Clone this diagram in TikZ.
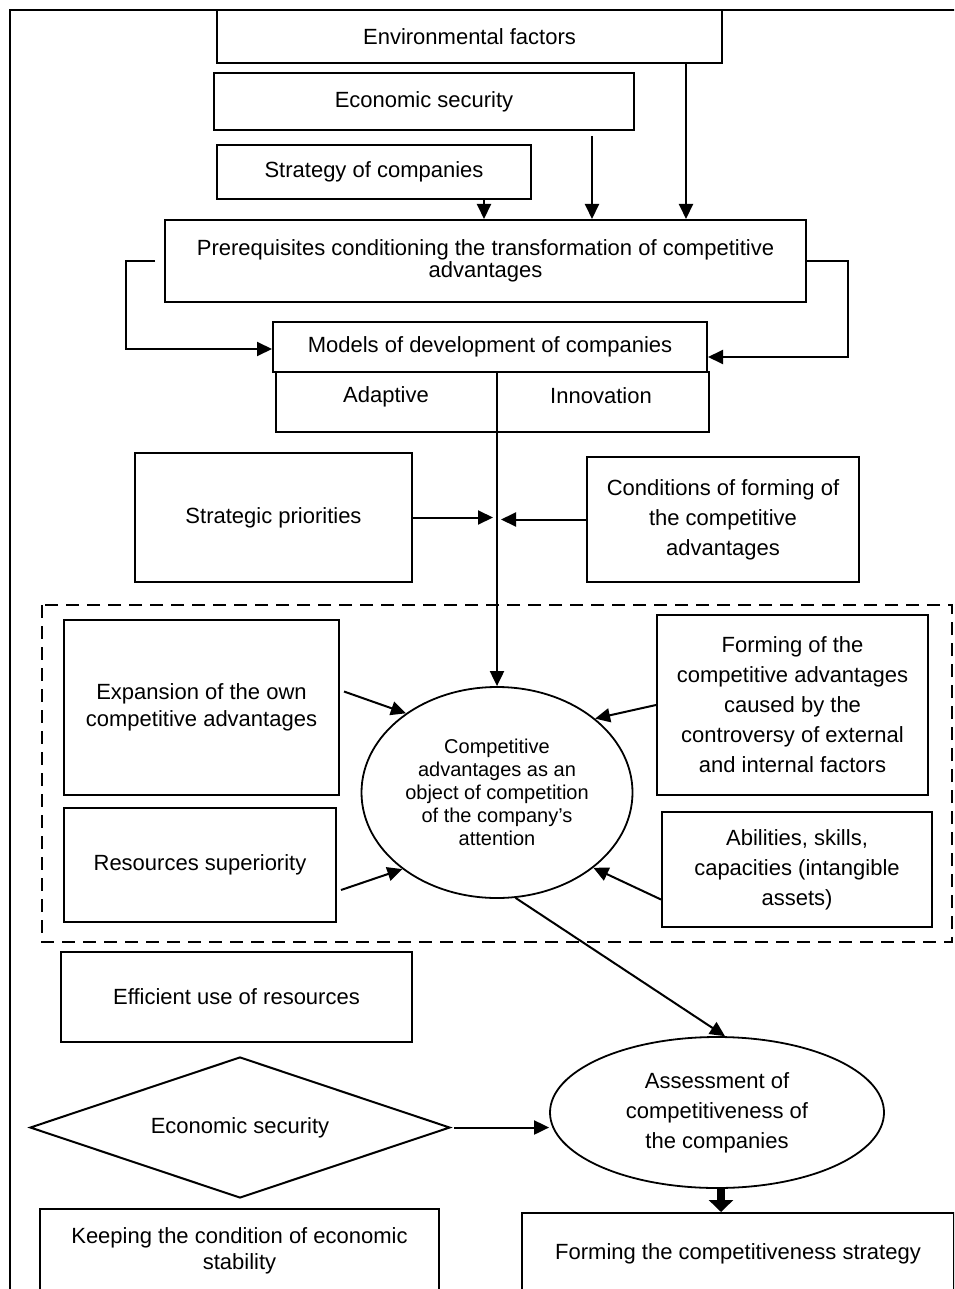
\documentclass[tikz,border=0pt]{standalone}
\usepackage{fontspec}
\setmainfont{Liberation Sans}
\usetikzlibrary{
  shapes.geometric, % Shapes "ellipse", "diamond"
  arrows.meta,
}
\def\mylw{1pt}
\tikzset{
  my box/.style={
    draw,
    line width=\mylw,
    rectangle,
    inner sep=1mm,
    align=center
  },
  my ellipse/.style={
    draw,
    line width=0.9pt,
    ellipse,
    inner sep=0mm,
    align=center
  },
  my diamond/.style={
    draw,
    line width=\mylw,
    diamond,
    aspect=3,
    inner sep=0mm
  },
  my lead/.style={
    font=\fontsize{11}{#1}\selectfont
  },
  my arrow/.style={
    line width=\mylw,
    -{Triangle[length=7.5pt,width=7pt]}
  },
  my thick arrow/.style={
    line width=4pt,
    -{Triangle[length=6pt,width=12pt]}
  },
  my group/.style={
    draw,
    line width=1.2pt,
    dash pattern=on 6.5pt off 4pt
  },
  my frame/.style={
    draw,
    line width=0.6pt
  },
  diagram/.style={
    x=0.5pt,
    y=-0.5pt,
    font=\fontsize{11}{15}\selectfont
  }
}

\begin{document}
\begin{tikzpicture}[diagram]
\useasboundingbox (0,0) rectangle (954,1289);
\clip (0,0) rectangle (954,1289);
\draw[my frame] (10,10) rectangle (970,1330);

\node[my box,minimum width=252.5pt,minimum height=26.5pt] (env)    at (469.5,36.5) {Environmental factors};
\node[my box,minimum width=210pt,minimum height=28.5pt]   (econ)   at (424,101.5)  {Economic security};
\node[my box,minimum width=157pt,minimum height=27pt]     (strat)  at (374,172)    {Strategy of companies};
\node[my box,minimum width=320.5pt,minimum height=41pt,my lead=10pt] (prereq) at (485.5,261)
  {Prerequisites conditioning the transformation of competitive\\advantages};
\node[my box,minimum width=217pt,minimum height=25pt]     (models) at (490,347)    {Models of development of companies};
\node[my box,minimum width=216.5pt,minimum height=30pt]   (types)  at (492.5,402)  {};
\node (adapt) at (386,397) {Adaptive};
\node (innov) at (601,396) {Innovation};
\node[my box,minimum width=138.5pt,minimum height=64.5pt] (sprio)  at (273.5,517.5) {Strategic priorities};
\node[my box,minimum width=136pt,minimum height=62.5pt]   (cond)   at (723,519.5)  {Conditions of forming of\\the competitive\\advantages};

\draw[my group] (42,605) rectangle (952,942);
\node[my ellipse,minimum width=135.5pt,minimum height=105.5pt,font=\fontsize{10}{11.5}\selectfont] (comp) at (497,792.5)
  {Competitive\\advantages as an\\object of competition\\of the company's\\attention};
\node[my box,minimum width=137.5pt,minimum height=87.5pt,my lead=13.5pt] (expan) at (201.5,707.5)
  {Expansion of the own\\competitive advantages};
\node[my box,minimum width=135.5pt,minimum height=90pt]   (formc)  at (792.5,705)
  {Forming of the\\competitive advantages\\caused by the\\controversy of external\\and internal factors};
\node[my box,minimum width=136pt,minimum height=57pt]     (resup)  at (200,865)    {Resources superiority};
\node[my box,minimum width=135pt,minimum height=57.5pt]   (abil)   at (797,869.5)  {Abilities, skills,\\capacities (intangible\\assets)};

\node[my box,minimum width=175.5pt,minimum height=45pt]   (effic)  at (236.5,997)  {Efficient use of resources};
\node[my diamond,minimum width=210pt,minimum height=70.5pt] (secur) at (240,1127.5) {Economic security};
\node[my ellipse,minimum width=167pt,minimum height=75.5pt] (assess) at (717,1112.5) {Assessment of\\competitiveness of\\the companies};
\node[my box,minimum width=199.5pt,minimum height=42pt,my lead=13pt] (keep) at (239.5,1251)
  {Keeping the condition of economic\\stability};
\node[my box,minimum width=216pt,minimum height=41pt]     (fstrat) at (738,1254)   {Forming the competitiveness strategy};

\draw[my arrow] ([xshift=55pt]strat.south) -- ([xshift=55pt]strat.south |- prereq.north);
\draw[my arrow] ([xshift=84pt,yshift=-2.5pt]econ.south) -- ([xshift=84pt]econ.south |- prereq.north);
\draw[my arrow] ([xshift=108.25pt]env.south) -- ([xshift=108.25pt]env.south |- prereq.north);
\draw[my arrow] ([xshift=-4.5pt]prereq.west) -- ++(-29,0) |- ([yshift=-1pt]models.west);
\draw[my arrow] (prereq.east) -- ++(41,0) |- ([yshift=-5pt]models.east);
\draw[my arrow] (models.south -| comp.north) -- (comp.north);
\draw[my arrow,shorten >=2pt] (sprio.east) -- (sprio.east -| comp.north);
\draw[my arrow,shorten >=2pt] (cond.west) -- (cond.west -| comp.north);
\draw[my arrow] ([xshift=2pt,yshift=8pt]expan.east) -- (comp.139);
\draw[my arrow] (formc.west) -- (comp.37);
\draw[my arrow] ([xshift=2pt,yshift=-12.5pt]resup.east) -- (comp.219);
\draw[my arrow] ([yshift=-15pt]abil.west) -- (comp.-38);
\draw[my arrow] (comp.-80) -- (assess.84);
\draw[my arrow] ([xshift=1.5pt]secur.east) -- (secur.east -| assess.west);
\draw[my thick arrow] ([xshift=2pt]assess.south) -- ([xshift=2pt]assess.south |- fstrat.north);
\end{tikzpicture}
\end{document}
